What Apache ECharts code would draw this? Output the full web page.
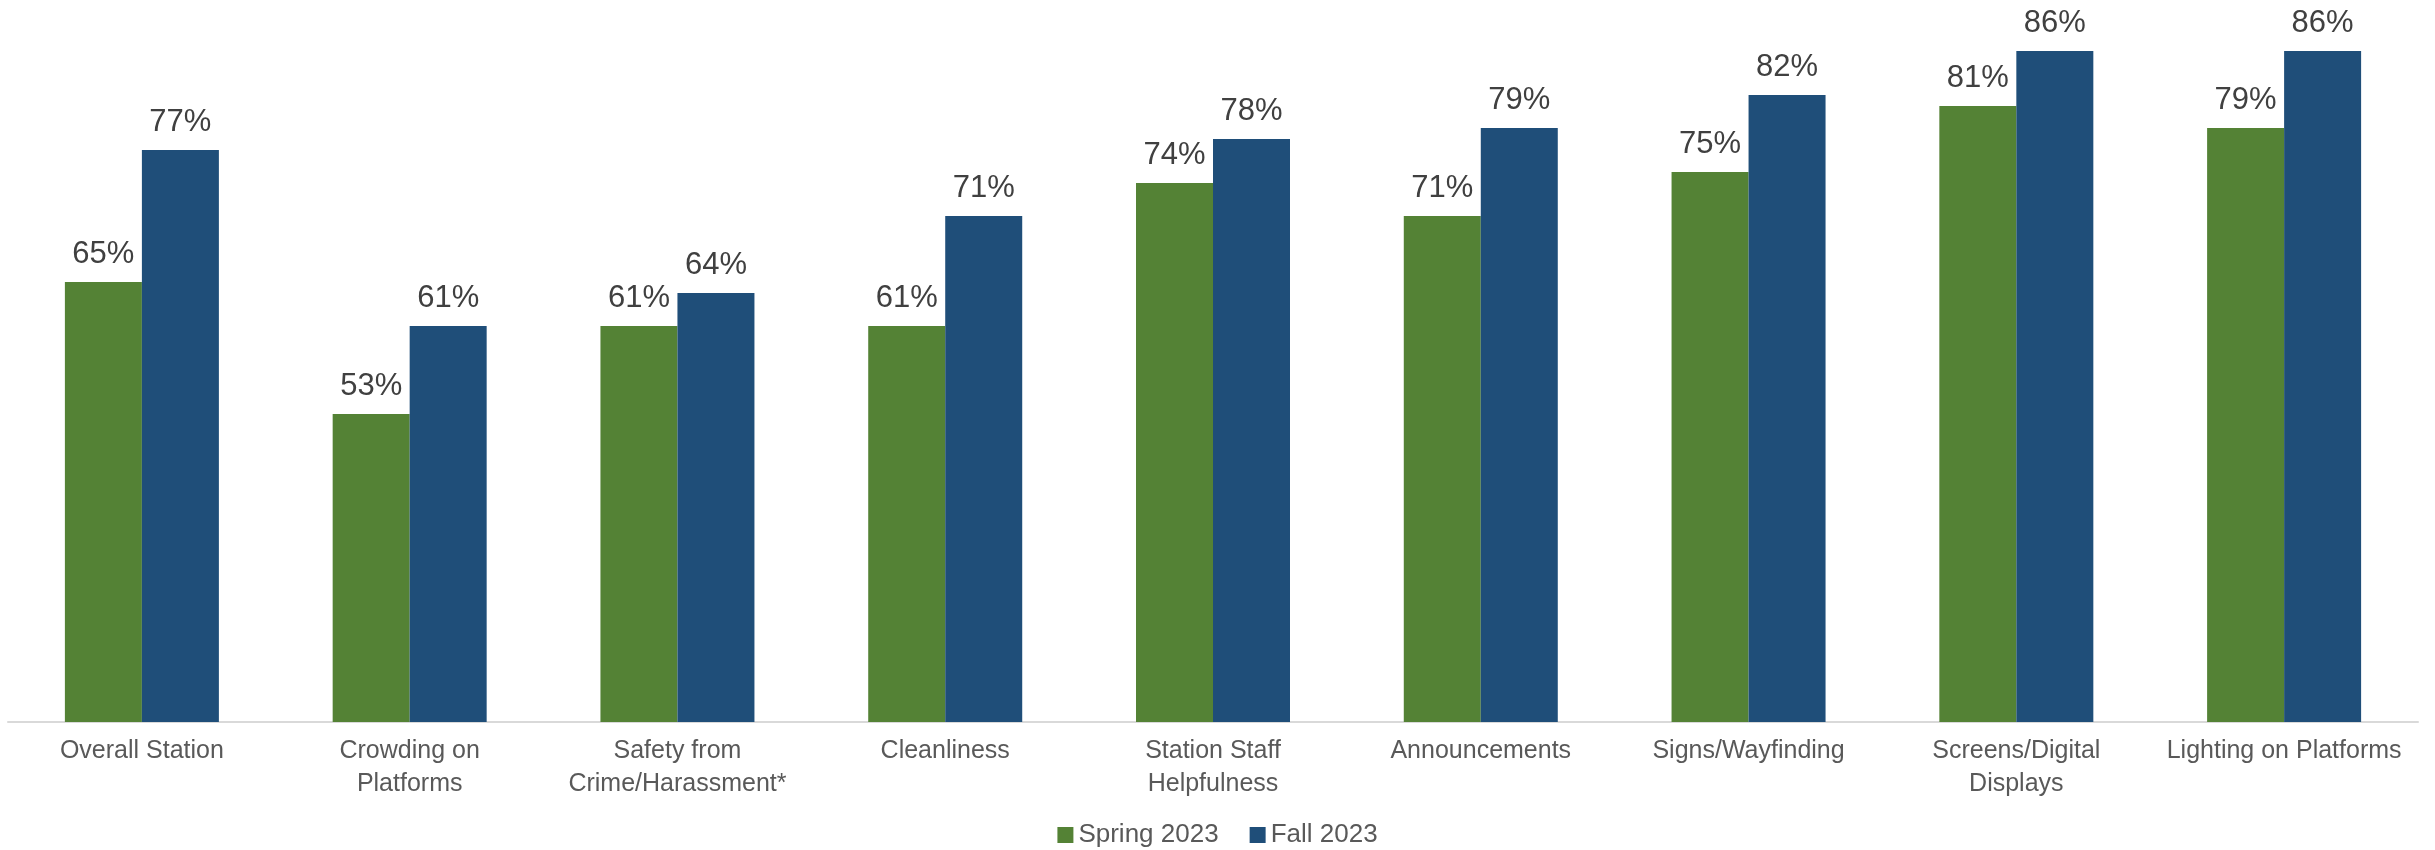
<!DOCTYPE html>
<html>
<head>
<meta charset="utf-8">
<script src="https://cdn.jsdelivr.net/npm/echarts@6/dist/echarts.min.js"></script>
<style>
html,body{margin:0;padding:0;background:#fff;}
#chart{width:2435px;height:850px;}
</style>
</head>
<body>
<div id="chart"></div>
<script>
const categories = [
  "Overall Station",
  "Crowding on\nPlatforms",
  "Safety from\nCrime/Harassment*",
  "Cleanliness",
  "Station Staff\nHelpfulness",
  "Announcements",
  "Signs/Wayfinding",
  "Screens/Digital\nDisplays",
  "Lighting on Platforms"
];
const seriesNames = ["Spring 2023", "Fall 2023"];
const spring2023 = [65, 53, 61, 61, 74, 71, 75, 81, 79];
const fall2023 = [77, 61, 64, 71, 78, 79, 82, 86, 86];

const FONT = "'Liberation Sans', Arial, sans-serif";
const chart = echarts.init(document.getElementById('chart'), null, {renderer: 'canvas'});
const labelCfg = {
  show: true,
  position: 'top',
  distance: 12,
  formatter: p => p.value + '%',
  fontFamily: FONT,
  fontSize: 31,
  color: '#404040'
};
chart.setOption({
  animation: false,
  backgroundColor: '#ffffff',
  grid: {left: 8, right: 17, top: 7, bottom: 128, containLabel: false},
  legend: {
    data: seriesNames,
    top: 822,
    left: 'center',
    padding: 0,
    itemWidth: 16,
    itemHeight: 16,
    itemGap: 31,
    icon: 'rect',
    textStyle: {fontFamily: FONT, fontSize: 26, color: '#595959'}
  },
  xAxis: {
    type: 'category',
    data: categories,
    axisLine: {show: true, lineStyle: {color: '#d9d9d9', width: 2}},
    axisTick: {show: false},
    axisLabel: {
      interval: 0,
      margin: 13,
      fontFamily: FONT,
      fontSize: 25,
      lineHeight: 33,
      color: '#595959'
    }
  },
  yAxis: {
    type: 'value',
    min: 25,
    max: 90,
    show: false,
    splitLine: {show: false}
  },
  series: [
    {
      name: seriesNames[0],
      type: 'bar',
      data: spring2023,
      barWidth: 77,
      barGap: '0%',
      itemStyle: {color: '#548235'},
      label: labelCfg
    },
    {
      name: seriesNames[1],
      type: 'bar',
      data: fall2023,
      barWidth: 77,
      barGap: '0%',
      itemStyle: {color: '#1f4e79'},
      label: labelCfg
    }
  ]
});
</script>
</body>
</html>
